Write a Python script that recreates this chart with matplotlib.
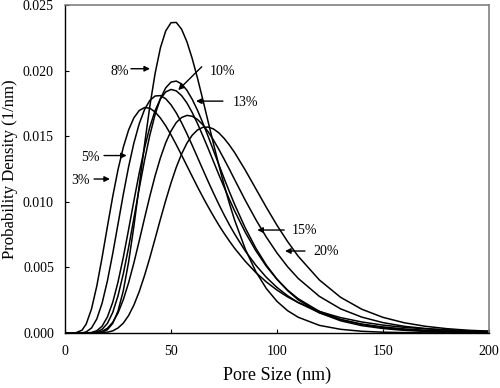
import numpy as np
import matplotlib
matplotlib.use("Agg")
import matplotlib.pyplot as plt

plt.rcParams["font.family"] = ["Liberation Serif", "DejaVu Serif"]

pore_size = [0, 5, 8, 10, 12.5, 15, 17.5, 20, 22.5, 25, 27.5, 30, 32.5, 35, 37.5, 40, 42.5, 45, 47.5, 50,
             52.5, 55, 57.5, 60, 62.5, 65, 67.5, 70, 72.5, 75, 77.5, 80, 85, 90, 95, 100, 105, 110, 120,
             130, 140, 150, 160, 170, 180, 190, 200]
# probability densities, in units of 1e-5 1/nm, one list per curve
dens_a = [0, 1, 21, 68, 183, 358, 576, 811, 1040, 1245, 1416, 1548, 1641, 1696, 1719, 1714, 1685, 1639, 1580, 1511,
          1435, 1356, 1275, 1194, 1114, 1037, 963, 892, 824, 761, 702, 646, 547, 461, 389, 327, 275, 232, 164,
          117, 84, 60, 43, 32, 23, 17, 13]
dens_b = [0, 0, 1, 8, 38, 107, 227, 397, 604, 830, 1057, 1267, 1449, 1595, 1703, 1773, 1807, 1810, 1786, 1740,
          1678, 1603, 1520, 1431, 1339, 1247, 1156, 1068, 983, 902, 826, 755, 626, 517, 424, 347, 284, 232, 154,
          102, 68, 46, 31, 21, 14, 10, 7]
dens_c = [0, 0, 0, 0, 4, 17, 52, 122, 233, 388, 577, 789, 1008, 1219, 1409, 1570, 1696, 1785, 1838, 1857, 1846,
          1810, 1754, 1681, 1597, 1504, 1408, 1309, 1210, 1114, 1020, 931, 769, 628, 508, 409, 327, 261, 165,
          103, 65, 40, 25, 16, 10, 6, 4]
dens_8 = [0, 0, 0, 0, 0, 1, 6, 25, 73, 167, 322, 541, 814, 1121, 1434, 1728, 1979, 2174, 2303, 2366, 2368, 2316,
          2221, 2093, 1943, 1780, 1612, 1445, 1284, 1132, 990, 861, 641, 468, 338, 241, 170, 120, 58, 28, 13, 6,
          3, 1, 1, 0, 0]
dens_10 = [0, 0, 0, 0, 1, 8, 28, 73, 156, 283, 451, 653, 875, 1101, 1315, 1507, 1666, 1787, 1869, 1913, 1921,
           1899, 1851, 1782, 1698, 1602, 1500, 1393, 1286, 1181, 1079, 981, 802, 647, 517, 410, 323, 253, 154,
           93, 56, 34, 20, 12, 7, 5, 3]
dens_d = [0, 0, 0, 0, 1, 3, 13, 36, 81, 152, 254, 383, 535, 702, 874, 1042, 1198, 1335, 1450, 1540, 1605, 1643,
          1659, 1653, 1628, 1588, 1535, 1472, 1402, 1327, 1250, 1170, 1013, 865, 730, 610, 505, 416, 279, 184,
          121, 79, 51, 34, 22, 14, 9]
dens_e = [0, 0, 0, 0, 0, 0, 2, 6, 16, 38, 75, 133, 213, 315, 437, 573, 719, 867, 1010, 1144, 1264, 1365, 1447,
          1508, 1548, 1568, 1570, 1556, 1527, 1485, 1434, 1376, 1243, 1100, 957, 821, 697, 585, 404, 272, 181,
          119, 78, 51, 33, 21, 14]

series = [dens_a, dens_b, dens_c, dens_8, dens_10, dens_d, dens_e]

labels = ["8%", "10%", "13%", "5%", "3%", "15%", "20%"]
label_xy = [(25.9, 0.01997), (74.4, 0.01997), (85.1, 0.0176), (12.2, 0.01336), (7.5, 0.01161),
            (113.2, 0.00785), (123.3, 0.00625)]
arrow_tail = [(31.1, 0.02015), (64.5, 0.0203), (74.5, 0.01768), (18.4, 0.01353), (13.7, 0.01174),
              (103.4, 0.00785), (113.2, 0.00625)]
arrow_tip = [(40.1, 0.02015), (53.4, 0.01852), (61.8, 0.01768), (29.1, 0.01353), (21.2, 0.01174),
             (90.7, 0.00785), (103.8, 0.00625)]

x = np.array(pore_size, float)

fig = plt.figure(figsize=(5, 3.88), dpi=100)
ax = fig.add_axes([0.13, 0.1418, 0.848, 0.845])
for d in series:
    ax.plot(x, np.array(d) * 1e-5, color="black", lw=1.1)

for lab, t, a0, a1 in zip(labels, label_xy, arrow_tail, arrow_tip):
    ax.text(t[0], t[1], lab, ha="center", va="center", fontsize=10)
    ax.annotate("", xy=a1, xytext=a0,
                arrowprops=dict(arrowstyle="-|>", color="black", lw=1.0, mutation_scale=8,
                                shrinkA=0, shrinkB=0))

ax.set_xlim(0, 200)
ax.set_ylim(0, 0.025)
ax.set_xticks([0, 50, 100, 150, 200])
ax.set_yticks([0, 0.005, 0.010, 0.015, 0.020, 0.025])
ax.set_yticklabels(["0.000", "0.005", "0.010", "0.015", "0.020", "0.025"])
ax.tick_params(direction="in", length=3, width=0.8, labelsize=10, colors="black")
ax.tick_params(axis="x", pad=9)
ax.tick_params(axis="y", pad=8)
for sp in ["left", "bottom"]:
    ax.spines[sp].set_color("black")
    ax.spines[sp].set_linewidth(1.0)
for sp in ["top", "right"]:
    ax.spines[sp].set_color("#808080")
    ax.spines[sp].set_linewidth(1.2)
ax.set_xlabel("Pore Size (nm)", fontsize=13, labelpad=6)
ax.set_ylabel("Probability Density (1/nm)", fontsize=12)
ax.yaxis.set_label_coords(-0.11, 0.5)

fig.savefig("out.png", dpi=100)
